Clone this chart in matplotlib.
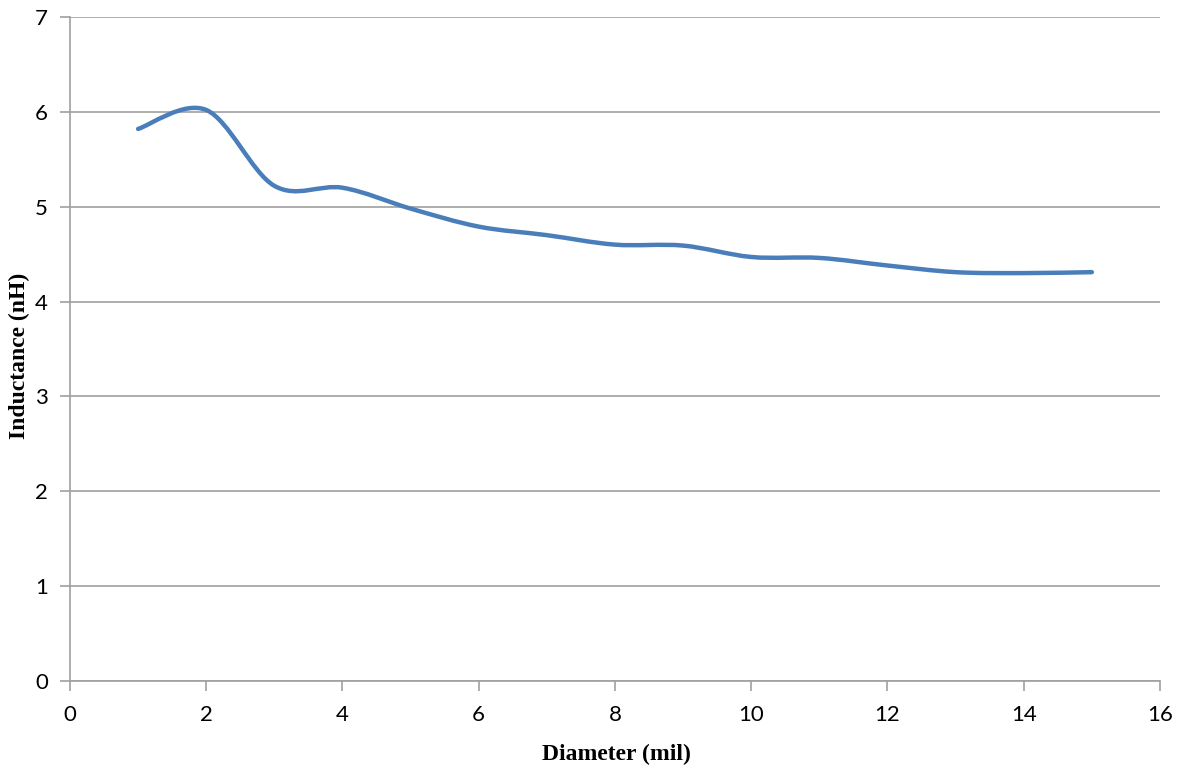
import matplotlib
matplotlib.use("Agg")
import matplotlib.pyplot as plt
from matplotlib.path import Path
from matplotlib.patches import PathPatch

diameter = [1, 2, 3, 4, 5, 6, 7, 8, 9, 10, 11, 12, 13, 14, 15]
inductance = [5.82, 6.02, 5.22, 5.2, 4.98, 4.79, 4.7, 4.6, 4.59, 4.47, 4.46, 4.38, 4.31, 4.3, 4.31]

x_ticks = [0, 2, 4, 6, 8, 10, 12, 14, 16]
y_ticks = [0, 1, 2, 3, 4, 5, 6, 7]

line_color = "#4A7EBB"
grid_color = "#A0A0A0"


def smooth_path(xs, ys):
    # Excel-style smoothed line: cubic Bezier segments with Catmull-Rom tangents
    n = len(xs)
    verts = [(xs[0], ys[0])]
    codes = [Path.MOVETO]
    for i in range(n - 1):
        x0, y0 = xs[max(i - 1, 0)], ys[max(i - 1, 0)]
        x1, y1 = xs[i], ys[i]
        x2, y2 = xs[i + 1], ys[i + 1]
        x3, y3 = xs[min(i + 2, n - 1)], ys[min(i + 2, n - 1)]
        c1 = (x1 + (x2 - x0) / 6, y1 + (y2 - y0) / 6)
        c2 = (x2 - (x3 - x1) / 6, y2 - (y3 - y1) / 6)
        verts += [c1, c2, (x2, y2)]
        codes += [Path.CURVE4] * 3
    return Path(verts, codes)


fig = plt.figure(figsize=(11.78, 7.72), dpi=100)
ax = fig.add_axes([0.0594, 0.1179, 0.9253, 0.8601])

ax.add_patch(PathPatch(smooth_path(diameter, inductance), facecolor="none",
                       edgecolor=line_color, linewidth=3.2, capstyle="round",
                       joinstyle="round", zorder=3))

ax.set_xlim(0, 16)
ax.set_ylim(0, 7)
ax.set_xticks(x_ticks)
ax.set_yticks(y_ticks)

ax.yaxis.grid(True, color=grid_color, linewidth=1.2)
ax.set_axisbelow(True)
for side in ["top", "right"]:
    ax.spines[side].set_visible(False)
for side in ["left", "bottom"]:
    ax.spines[side].set_color(grid_color)
    ax.spines[side].set_linewidth(1.2)

ax.tick_params(axis="both", direction="out", length=7, width=1.2, color=grid_color,
               labelsize=16, labelcolor="#000000")
ax.tick_params(axis="x", pad=10)
ax.tick_params(axis="y", pad=9)
for lab in ax.get_xticklabels() + ax.get_yticklabels():
    lab.set_family("Lato")

label_font = {"family": "Liberation Serif", "weight": "bold", "size": 17}
ax.set_xlabel("Diameter (mil)", fontdict=label_font, va="center")
ax.set_ylabel("Inductance (nH)", fontdict=label_font, va="center")
ax.xaxis.set_label_coords(0.501, -0.111)
ax.yaxis.set_label_coords(-0.046, 0.49)

fig.savefig("out.png", dpi=100)
